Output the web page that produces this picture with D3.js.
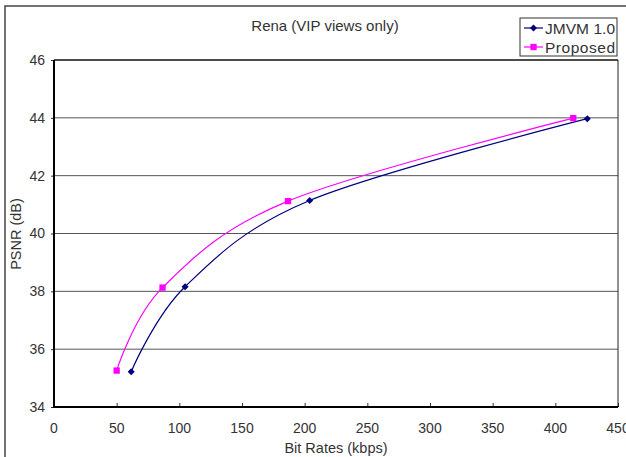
<!DOCTYPE html>
<html>
<head>
<meta charset="utf-8">
<script src="https://cdn.jsdelivr.net/npm/d3@7"></script>
<style>
  body { margin: 0; background: #fff; }
  svg { font-family: "Liberation Sans", Arial, sans-serif; }
</style>
</head>
<body>
<div id="chart"></div>
<script>
// chart values
let seriesNames = ['JMVM 1.0', 'Proposed']
let jmvmRates = [61.6, 104.6, 204, 425.5]
let jmvmPsnr = [35.22, 38.16, 41.14, 43.97]
let propRates = [50, 86.6, 186.7, 414.3]
let propPsnr = [35.26, 38.13, 41.12, 43.99]
let xTicks = [0, 50, 100, 150, 200, 250, 300, 350, 400, 450]
let yTicks = [34, 36, 38, 40, 42, 44, 46]

var width = 626
var height = 457
var margin = {left: 54, top: 60, right: 8, bottom: 50}

var svg = d3.select('#chart')
  .append('svg')
  .attr('width', width)
  .attr('height', height)

// outer frame of the chart object (cut by the window on right/bottom)
svg.append('path')
  .attr('d', 'M5,' + height + 'V6H' + width)
  .attr('fill', 'none')
  .attr('stroke', '#444')
  .attr('stroke-width', 1.5)

var x = d3.scaleLinear()
  .domain([0, 450])
  .range([margin.left, width - margin.right])

var y = d3.scaleLinear()
  .domain([34, 46])
  .range([height - margin.bottom, margin.top])

// gridlines
svg.selectAll('line.grid')
  .data(yTicks.slice(1, -1))
  .enter().append('line')
  .attr('class', 'grid')
  .attr('x1', x(0))
  .attr('x2', x(450))
  .attr('y1', function (d) { return y(d) })
  .attr('y2', function (d) { return y(d) })
  .attr('stroke', '#555')
  .attr('stroke-width', 1)

// x axis, ticks point up into the plot
var xAxis = d3.axisTop(x)
  .tickValues(xTicks)
  .tickSize(4)
  .tickFormat('')
var gx = svg.append('g')
  .attr('transform', 'translate(0,' + y(34) + ')')
  .call(xAxis)
gx.select('.domain').remove()
gx.selectAll('line').attr('stroke', '#333')

svg.selectAll('text.xlab')
  .data(xTicks)
  .enter().append('text')
  .attr('class', 'xlab')
  .attr('x', function (d) { return x(d) })
  .attr('y', y(34) + 26)
  .attr('text-anchor', 'middle')
  .attr('font-size', 14)
  .attr('fill', '#333')
  .text(function (d) { return d })

// y axis, ticks point outward
var yAxis = d3.axisLeft(y)
  .tickValues(yTicks)
  .tickSize(3)
  .tickFormat('')
var gy = svg.append('g')
  .attr('transform', 'translate(' + x(0) + ',0)')
  .call(yAxis)
gy.select('.domain').remove()
gy.selectAll('line').attr('stroke', '#333')

svg.selectAll('text.ylab')
  .data(yTicks)
  .enter().append('text')
  .attr('class', 'ylab')
  .attr('x', x(0) - 9)
  .attr('y', function (d) { return y(d) })
  .attr('dy', '0.35em')
  .attr('text-anchor', 'end')
  .attr('font-size', 14)
  .attr('fill', '#333')
  .text(function (d) { return d })

// plot frame
svg.append('line')
  .attr('x1', x(450)).attr('x2', x(450))
  .attr('y1', y(46)).attr('y2', y(34))
  .attr('stroke', '#222').attr('stroke-width', 1)
svg.append('line')
  .attr('x1', x(0)).attr('x2', x(450))
  .attr('y1', y(46)).attr('y2', y(46))
  .attr('stroke', '#111').attr('stroke-width', 1.5)
svg.append('path')
  .attr('d', 'M' + x(0) + ',' + y(46) + 'V' + y(34) + 'H' + x(450))
  .attr('fill', 'none')
  .attr('stroke', '#000')
  .attr('stroke-width', 2)

// series lines, smoothed like the spreadsheet's smooth line
var line = d3.line()
  .x(function (d) { return x(d[0]) })
  .y(function (d) { return y(d[1]) })
  .curve(d3.curveCardinal.tension(0))

var jmvm = d3.zip(jmvmRates, jmvmPsnr)
var prop = d3.zip(propRates, propPsnr)

svg.append('path')
  .datum(prop)
  .attr('d', line)
  .attr('fill', 'none')
  .attr('stroke', '#ff00ff')
  .attr('stroke-width', 1.2)

svg.append('path')
  .datum(jmvm)
  .attr('d', line)
  .attr('fill', 'none')
  .attr('stroke', '#000080')
  .attr('stroke-width', 1.2)

var diamond = d3.symbol().type(d3.symbolDiamond2).size(32)
var square = d3.symbol().type(d3.symbolSquare).size(40)

svg.selectAll('path.pmark')
  .data(prop)
  .enter().append('path')
  .attr('class', 'pmark')
  .attr('d', square)
  .attr('transform', function (d) { return 'translate(' + x(d[0]) + ',' + y(d[1]) + ')' })
  .attr('fill', '#ff00ff')

svg.selectAll('path.jmark')
  .data(jmvm)
  .enter().append('path')
  .attr('class', 'jmark')
  .attr('d', diamond)
  .attr('transform', function (d) { return 'translate(' + x(d[0]) + ',' + y(d[1]) + ')' })
  .attr('fill', '#000080')

// titles
svg.append('text')
  .attr('x', 325)
  .attr('y', 31)
  .attr('text-anchor', 'middle')
  .attr('font-size', 15)
  .attr('fill', '#333')
  .text('Rena (VIP views only)')

svg.append('text')
  .attr('x', 336)
  .attr('y', 453)
  .attr('text-anchor', 'middle')
  .attr('font-size', 14.5)
  .attr('fill', '#333')
  .text('Bit Rates (kbps)')

svg.append('text')
  .attr('transform', 'translate(21,' + 234 + ') rotate(-90)')
  .attr('text-anchor', 'middle')
  .attr('font-size', 14.5)
  .attr('fill', '#333')
  .text('PSNR (dB)')

// legend
var legend = svg.append('g').attr('transform', 'translate(520,18)')
legend.append('rect')
  .attr('width', 97)
  .attr('height', 38)
  .attr('fill', '#fff')
  .attr('stroke', '#333')
  .attr('stroke-width', 1)

var legendColors = ['#000080', '#ff00ff']
var legendMarks = [diamond, square]
seriesNames.forEach(function (name, i) {
  var ly = 10 + i * 19
  legend.append('line')
    .attr('x1', 4).attr('x2', 23)
    .attr('y1', ly).attr('y2', ly)
    .attr('stroke', legendColors[i])
    .attr('stroke-width', 1.2)
  legend.append('path')
    .attr('d', legendMarks[i])
    .attr('transform', 'translate(13.5,' + ly + ')')
    .attr('fill', legendColors[i])
  legend.append('text')
    .attr('x', 25)
    .attr('y', ly)
    .attr('dy', '0.36em')
    .attr('font-size', 15.5)
    .attr('textLength', 70)
    .attr('fill', '#333')
    .text(name)
})
</script>
</body>
</html>
